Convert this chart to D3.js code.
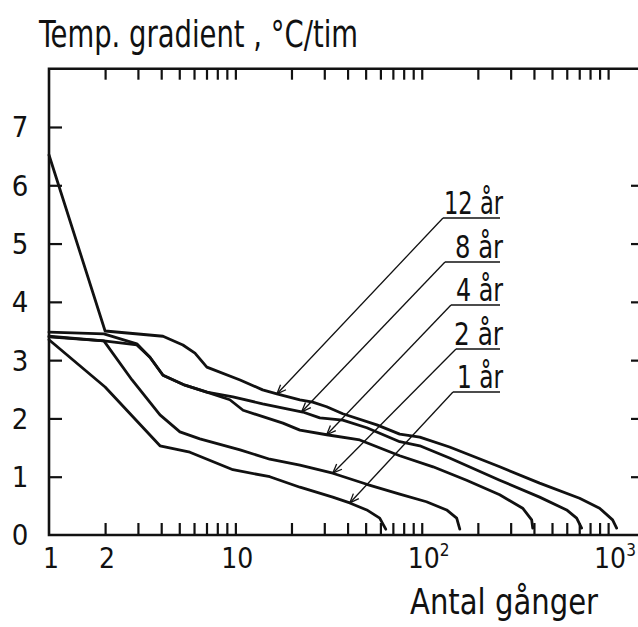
<!DOCTYPE html>
<html><head><meta charset="utf-8">
<script src="https://cdn.jsdelivr.net/npm/d3@7"></script>
<style>html,body{margin:0;padding:0;background:#fff}svg{display:block}</style>
</head><body>
<svg id="chart" width="638" height="627"></svg>
<script>
// ---------------- data ----------------
const seriesNames = ["12 år", "8 år", "4 år", "2 år", "1 år"];
const years12 = [[1,6.52],[2.0,3.50],[4.09,3.41],[5.23,3.26],[6.07,3.12],[7.03,2.88],[10.6,2.66],[14.0,2.49],[16.7,2.42],[22.2,2.32],[26.0,2.28],[30.9,2.20],[37.7,2.08],[57.4,1.89],[76.2,1.73],[97.6,1.68],[141,1.51],[262,1.17],[429,0.89],[703,0.63],[900,0.46],[1057,0.26],[1111,0.12]];
const years8  = [[1,3.48],[1.97,3.45],[2.96,3.28],[3.48,3.05],[4.09,2.74],[5.36,2.57],[7.03,2.45],[9.70,2.37],[14.0,2.25],[23.0,2.11],[28.4,2.01],[37.7,1.97],[50.7,1.84],[76.2,1.60],[97.6,1.53],[141,1.32],[262,0.94],[429,0.65],[599,0.43],[678,0.29],[721,0.12]];
const years4  = [[1,3.41],[1.97,3.33],[2.96,3.26],[3.48,3.05],[4.09,2.74],[5.36,2.57],[7.03,2.45],[9.34,2.32],[11.0,2.14],[18.0,1.92],[22.2,1.80],[30.9,1.72],[46.5,1.63],[76.2,1.36],[115,1.17],[174,0.94],[262,0.69],[348,0.46],[389,0.26],[394,0.12]];
const years2  = [[1,3.40],[1.97,3.33],[2.79,2.66],[3.94,2.06],[5.04,1.77],[6.45,1.65],[10.6,1.46],[15.3,1.30],[22.2,1.20],[33.3,1.06],[50.7,0.87],[76.2,0.70],[106,0.57],[136,0.43],[154,0.29],[160,0.10]];
const years1  = [[1,3.35],[2.0,2.54],[3.94,1.53],[5.70,1.42],[9.70,1.12],[15.3,1.00],[22.2,0.82],[33.3,0.65],[41.1,0.55],[50.7,0.43],[59.5,0.29],[64.1,0.10]];
const arrowTargetX = [16.7, 22.7, 30.9, 33.3, 41.1];   // where each label's arrow meets its curve
const yTickValues = [1,2,3,4,5,6,7];
const yRightTickValues = [1,2,3,4,5,6];
const yTickLabels = ["0","1","2","3","4","5","6","7"];
const xMinorTicks = [2,3,4,5,6,7,8,9,10,20,30,40,50,60,70,80,90,100,200,300,400,500,600,700,800,900,1000];
const xTickLabels = [{v:1,t:"1",sup:""},{v:2,t:"2",sup:""},{v:10,t:"10",sup:""},{v:100,t:"10",sup:"2"},{v:1000,t:"10",sup:"3"}];
const titleText = "Temp. gradient , °C/tim";
const xTitleText = "Antal gånger";

const allSeries = [years12, years8, years4, years2, years1];

// ---------------- layout ----------------
const W = 638, H = 627;
const FONT = "'DejaVu Sans Condensed','DejaVu Sans',sans-serif";
const svg = d3.select("#chart");
svg.append("rect").attr("width", W).attr("height", H).attr("fill", "#fff");

const x = d3.scaleLog().domain([1, 1520]).range([49, 642]);
const y = d3.scaleLinear().domain([0, 8]).range([535, 68.7]);
const ink = "#111";

// frame
const g = svg.append("g");
g.append("path")
  .attr("d", `M${x(1)},${y(8)}H${x(1520)}V${y(0)}H${x(1)}Z`)
  .attr("fill", "none").attr("stroke", ink).attr("stroke-width", 2.6);

function styleAxis(sel) {
  sel.select(".domain").remove();
  sel.selectAll(".tick line").attr("stroke", ink).attr("stroke-width", 2.2);
  sel.selectAll(".tick text").remove();
}
g.append("g").attr("transform", `translate(0,${y(0)})`)
  .call(d3.axisBottom(x).tickValues(xMinorTicks).tickSizeInner(-12).tickSizeOuter(0))
  .call(styleAxis);
g.append("g").attr("transform", `translate(0,${y(8)})`)
  .call(d3.axisTop(x).tickValues(xMinorTicks).tickSizeInner(-11).tickSizeOuter(0))
  .call(styleAxis);
g.append("g").attr("transform", `translate(${x(1)},0)`)
  .call(d3.axisLeft(y).tickValues(yTickValues).tickSizeInner(-13).tickSizeOuter(0))
  .call(styleAxis);
g.append("g").attr("transform", `translate(${x(1520)},0)`)
  .call(d3.axisRight(y).tickValues(yRightTickValues).tickSizeInner(-11).tickSizeOuter(0))
  .call(styleAxis);

// y tick labels
g.selectAll("text.ylab").data(yTickLabels).join("text")
  .attr("class", "ylab")
  .attr("x", 20).attr("y", (d, i) => y(i)).attr("dy", "0.36em")
  .attr("text-anchor", "middle")
  .attr("font-family", FONT).attr("font-size", 29).attr("fill", ink)
  .text(d => d);

// x tick labels (with superscripts)
xTickLabels.forEach(d => {
  const t = g.append("text")
    .attr("y", 568)
    .attr("font-family", FONT).attr("font-size", 28).attr("fill", ink);
  const main = t.append("tspan").text(d.t);
  if (d.sup) {
    t.append("tspan").attr("font-size", 17).attr("dy", -12).text(d.sup);
  }
  const w = main.node().getComputedTextLength();
  t.attr("x", x(d.v) - w / 2 + 2);
});

// curves
const line = d3.line().x(d => x(d[0])).y(d => y(d[1]));
g.selectAll("path.curve").data(allSeries).join("path")
  .attr("class", "curve")
  .attr("d", line)
  .attr("fill", "none").attr("stroke", ink)
  .attr("stroke-width", 2.8).attr("stroke-linejoin", "round").attr("stroke-linecap", "round");

// labels with leader arrows
const labelBaseline = [214, 258, 301, 345, 388];
const labelRight = 503;
const labelWidths = [59, 48, 47, 49, 46];
const underlineLeft = [443, 445, 451, 456, 453];
function interpY(series, xv) {
  const lx = Math.log10(xv);
  for (let i = 0; i < series.length - 1; i++) {
    const a = series[i], b = series[i + 1];
    const la = Math.log10(a[0]), lb = Math.log10(b[0]);
    if (lx >= la && lx <= lb) {
      const t = (lx - la) / (lb - la);
      return a[1] + t * (b[1] - a[1]);
    }
  }
  return series[series.length - 1][1];
}
seriesNames.forEach((name, i) => {
  const ty = labelBaseline[i];
  g.append("text")
    .attr("x", labelRight).attr("y", ty)
    .attr("text-anchor", "end")
    .attr("font-family", FONT).attr("font-size", 32).attr("fill", ink)
    .attr("textLength", labelWidths[i]).attr("lengthAdjust", "spacingAndGlyphs")
    .text(name);
  const uy = ty + 4;
  const ux0 = underlineLeft[i], ux1 = labelRight - 3;
  g.append("line").attr("x1", ux0).attr("x2", ux1).attr("y1", uy).attr("y2", uy)
    .attr("stroke", ink).attr("stroke-width", 1.7);
  const tx = x(arrowTargetX[i]), tyy = y(interpY(allSeries[i], arrowTargetX[i]));
  g.append("line").attr("x1", ux0).attr("y1", uy).attr("x2", tx).attr("y2", tyy)
    .attr("stroke", ink).attr("stroke-width", 1.3);
  // arrow head
  const dx = ux0 - tx, dy = uy - tyy, L = Math.hypot(dx, dy);
  const ux = dx / L, uyv = dy / L, len = 10, ang = 0.38;
  [ang, -ang].forEach(a => {
    const rx = ux * Math.cos(a) - uyv * Math.sin(a);
    const ry = ux * Math.sin(a) + uyv * Math.cos(a);
    g.append("line").attr("x1", tx).attr("y1", tyy)
      .attr("x2", tx + rx * len).attr("y2", tyy + ry * len)
      .attr("stroke", ink).attr("stroke-width", 1.3);
  });
});

// titles
svg.append("text").attr("x", 39).attr("y", 47)
  .attr("font-family", FONT).attr("font-size", 38).attr("fill", ink)
  .attr("textLength", 319).attr("lengthAdjust", "spacingAndGlyphs")
  .text(titleText);
svg.append("text").attr("x", 410).attr("y", 614)
  .attr("font-family", FONT).attr("font-size", 35).attr("fill", ink)
  .attr("textLength", 188).attr("lengthAdjust", "spacingAndGlyphs")
  .text(xTitleText);
</script>
</body></html>
